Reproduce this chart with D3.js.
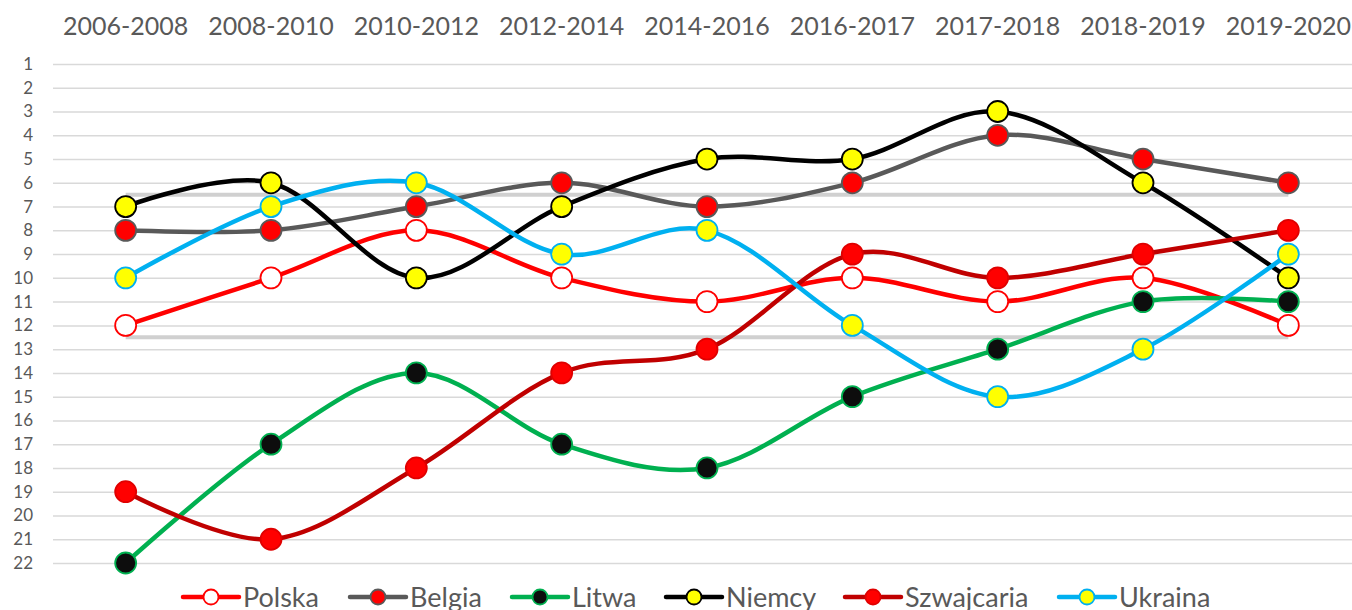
<!DOCTYPE html>
<html>
<head>
<meta charset="utf-8">
<script src="https://cdn.jsdelivr.net/npm/d3@7"></script>
<style>
  body { margin: 0; background: #fff; }
  svg { display: block; font-family: Lato, "Open Sans", sans-serif; }
</style>
</head>
<body>
<script>
// Categories (top axis) and rank ticks
var periods = ["2006-2008", "2008-2010", "2010-2012", "2012-2014", "2014-2016",
               "2016-2017", "2017-2018", "2018-2019", "2019-2020"];
var rankTicks = d3.range(1, 23);
var bandLines = [6.5, 12.5];

// Series values (rank, 1 = best)
var polska     = [12, 10, 8, 10, 11, 10, 11, 10, 12];
var belgia     = [8, 8, 7, 6, 7, 6, 4, 5, 6];
var litwa      = [22, 17, 14, 17, 18, 15, 13, 11, 11];
var niemcy     = [7, 6, 10, 7, 5, 5, 3, 6, 10];
var szwajcaria = [19, 21, 18, 14, 13, 9, 10, 9, 8];
var ukraina    = [10, 7, 6, 9, 8, 12, 15, 13, 9];

var series = [
    { name: "Polska",     values: polska,     line: "#ff0000", fill: "#ffffff", stroke: "#ff0000" },
    { name: "Belgia",     values: belgia,     line: "#595959", fill: "#ff0000", stroke: "#595959" },
    { name: "Litwa",      values: litwa,      line: "#00b050", fill: "#0d0d0d", stroke: "#00b050" },
    { name: "Niemcy",     values: niemcy,     line: "#000000", fill: "#ffff00", stroke: "#000000" },
    { name: "Szwajcaria", values: szwajcaria, line: "#c00000", fill: "#ff0000", stroke: "#e00000" },
    { name: "Ukraina",    values: ukraina,    line: "#00b0f0", fill: "#ffff00", stroke: "#00b0f0" }
];

var W = 1352, H = 610;
var margin = { left: 53, right: 1361, top: 64, bottom: 563 };

var svg = d3.select("body").append("svg")
    .attr("width", W)
    .attr("height", H);

var x = d3.scaleBand()
    .domain(periods)
    .range([margin.left, margin.right]);
var xc = function (p) { return x(p) + x.bandwidth() / 2; };

var y = d3.scaleLinear()
    .domain([1, 22])
    .range([margin.top, margin.bottom]);

// Y axis with gridlines
var yAxis = svg.append("g")
    .attr("transform", "translate(" + margin.left + ",0)")
    .call(d3.axisLeft(y)
        .tickValues(rankTicks)
        .tickFormat(d3.format("d"))
        .tickSize(-(W - margin.left))
        .tickPadding(20));
yAxis.select(".domain").remove();
yAxis.selectAll(".tick line")
    .attr("stroke", "#d9d9d9")
    .attr("stroke-width", 1.5);
yAxis.selectAll(".tick text")
    .attr("fill", "#595959")
    .style("font-size", "17px")
    .style("font-family", "Lato, sans-serif");

// X axis on top
var xAxis = svg.append("g")
    .attr("transform", "translate(0,35)")
    .call(d3.axisTop(x).tickSize(0).tickPadding(0));
xAxis.select(".domain").remove();
xAxis.selectAll(".tick text")
    .attr("fill", "#595959")
    .style("font-size", "25px")
    .style("font-family", "Lato, sans-serif");

// Thick separator lines
svg.selectAll(".band-line")
    .data(bandLines)
    .enter().append("line")
    .attr("class", "band-line")
    .attr("x1", xc(periods[0]))
    .attr("x2", xc(periods[periods.length - 1]))
    .attr("y1", function (d) { return y(d); })
    .attr("y2", function (d) { return y(d); })
    .attr("stroke", "#d0d0d0")
    .attr("stroke-width", 4);

var line = d3.line()
    .x(function (d, i) { return xc(periods[i]); })
    .y(function (d) { return y(d); })
    .curve(d3.curveCardinal.tension(0));

// Lines
svg.selectAll(".series-line")
    .data(series)
    .enter().append("path")
    .attr("class", "series-line")
    .attr("fill", "none")
    .attr("stroke", function (d) { return d.line; })
    .attr("stroke-width", 4.5)
    .attr("stroke-linecap", "round")
    .attr("d", function (d) { return line(d.values); });

// Markers
series.forEach(function (s) {
    svg.append("g").selectAll("circle")
        .data(s.values)
        .enter().append("circle")
        .attr("cx", function (d, i) { return xc(periods[i]); })
        .attr("cy", function (d) { return y(d); })
        .attr("r", 10.5)
        .attr("fill", s.fill)
        .attr("stroke", s.stroke)
        .attr("stroke-width", 1.8);
});

// Legend
var legendStarts = [183, 350, 512, 666, 845, 1059];
var legendY = 597;
var legend = svg.selectAll(".legend-item")
    .data(series)
    .enter().append("g")
    .attr("class", "legend-item")
    .attr("transform", function (d, i) { return "translate(" + legendStarts[i] + "," + legendY + ")"; });

legend.append("line")
    .attr("x1", 0).attr("x2", 56)
    .attr("stroke", function (d) { return d.line; })
    .attr("stroke-width", 4.5)
    .attr("stroke-linecap", "round");
legend.append("circle")
    .attr("cx", 28)
    .attr("r", 7.5)
    .attr("fill", function (d) { return d.fill; })
    .attr("stroke", function (d) { return d.stroke; })
    .attr("stroke-width", 1.8);
legend.append("text")
    .attr("x", 60)
    .attr("dy", "0.36em")
    .attr("fill", "#595959")
    .style("font-size", "27px")
    .text(function (d) { return d.name; });
</script>
</body>
</html>
